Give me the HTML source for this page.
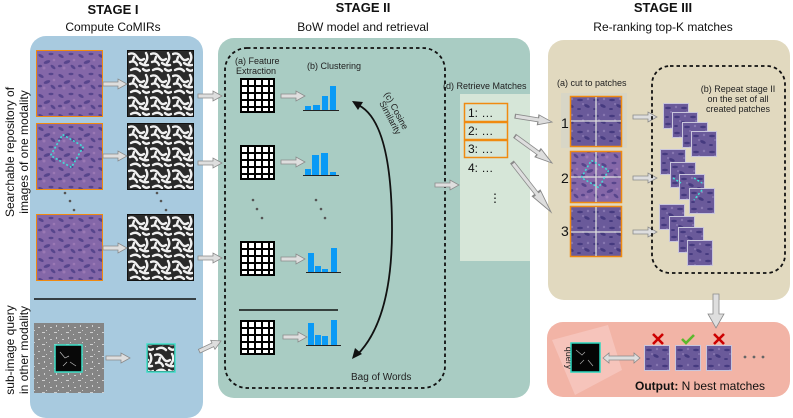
<!DOCTYPE html>
<html><head><meta charset="utf-8"><style>
html,body{margin:0;padding:0;background:#fff;}
svg{display:block;font-family:"Liberation Sans",Arial,sans-serif;}
</style></head><body>
<svg width="793" height="418" viewBox="0 0 793 418" xmlns="http://www.w3.org/2000/svg">
<defs>
<pattern id="pg" width="22" height="22" patternUnits="userSpaceOnUse">
<rect width="22" height="22" fill="#2a2a2a"/>
<g stroke="#f0f0f0" stroke-width="2.4" fill="none" stroke-linecap="round">
<path d="M1,3 Q6,1 9,6 T16,8"/><path d="M18,2 Q21,7 17,12"/><path d="M2,11 Q7,9 9,14"/><path d="M12,12 Q16,15 20,14"/>
<path d="M3,19 Q8,16 12,20"/><path d="M15,18 Q18,21 21,19"/><path d="M6,6 L5,9"/>
</g></pattern>
<pattern id="pp" width="20" height="20" patternUnits="userSpaceOnUse">
<rect width="20" height="20" fill="#8467a8"/>
<g fill="#4c3c84" opacity="0.8">
<ellipse cx="4" cy="5" rx="3" ry="1.5" transform="rotate(30 4 5)"/><ellipse cx="14" cy="3" rx="2.5" ry="1.2"/>
<ellipse cx="10" cy="11" rx="3.5" ry="1.6" transform="rotate(-20 10 11)"/><ellipse cx="3" cy="15" rx="2" ry="1.3"/>
<ellipse cx="16" cy="16" rx="3" ry="1.4" transform="rotate(40 16 16)"/></g>
<g fill="#b08ac0" opacity="0.5"><circle cx="7" cy="17" r="1.5"/><circle cx="17" cy="9" r="1.3"/></g>
</pattern>
<pattern id="pd" width="16" height="16" patternUnits="userSpaceOnUse">
<rect width="16" height="16" fill="#6a5a9a"/>
<g fill="#3c3278" opacity="0.8"><ellipse cx="4" cy="4" rx="3" ry="1.3"/><ellipse cx="11" cy="10" rx="3" ry="1.5" transform="rotate(25 11 10)"/><ellipse cx="3" cy="13" rx="2" ry="1"/></g>
<g fill="#9a8ac0" opacity="0.6"><circle cx="12" cy="3" r="1.2"/><circle cx="7" cy="8" r="1"/></g>
</pattern>
<pattern id="pq" width="12" height="12" patternUnits="userSpaceOnUse">
<rect width="12" height="12" fill="#858585"/>
<g fill="#cfcfcf"><rect x="2" y="3" width="2" height="1"/><rect x="8" y="1" width="1" height="2"/><rect x="6" y="8" width="3" height="1"/><rect x="1" y="10" width="1" height="1"/><rect x="10" y="6" width="1" height="1"/></g>
</pattern>
<g id="grid">
<rect x="0" y="0" width="35" height="35" fill="#000"/>
<g fill="#fff">
<rect x="2" y="2" width="5" height="5"/><rect x="9" y="2" width="5" height="5"/><rect x="16" y="2" width="5" height="5"/><rect x="23" y="2" width="5" height="5"/><rect x="30" y="2" width="3" height="5"/>
<rect x="2" y="9" width="5" height="5"/><rect x="9" y="9" width="5" height="5"/><rect x="16" y="9" width="5" height="5"/><rect x="23" y="9" width="5" height="5"/><rect x="30" y="9" width="3" height="5"/>
<rect x="2" y="16" width="5" height="5"/><rect x="9" y="16" width="5" height="5"/><rect x="16" y="16" width="5" height="5"/><rect x="23" y="16" width="5" height="5"/><rect x="30" y="16" width="3" height="5"/>
<rect x="2" y="23" width="5" height="5"/><rect x="9" y="23" width="5" height="5"/><rect x="16" y="23" width="5" height="5"/><rect x="23" y="23" width="5" height="5"/><rect x="30" y="23" width="3" height="5"/>
<rect x="2" y="30" width="5" height="3"/><rect x="9" y="30" width="5" height="3"/><rect x="16" y="30" width="5" height="3"/><rect x="23" y="30" width="5" height="3"/><rect x="30" y="30" width="3" height="3"/>
</g></g>
<polygon id="ar" points="-24,-2 -9,-2 -9,-5 0,0 -9,5 -9,2 -24,2" fill="#dedede" stroke="#8a8a8a" stroke-width="0.8"/>
<g id="pur"><rect width="65" height="65" fill="url(#pp)"/></g>
<g id="gry"><rect width="65" height="65" fill="url(#pg)"/></g>
<g id="pat"><rect x="-1" y="-1" width="26" height="26" fill="#c9c6dc"/><rect width="24" height="24" fill="url(#pd)"/></g>
</defs>

<g text-anchor="middle" fill="#111">
<text x="113" y="14" font-size="13" font-weight="bold">STAGE I</text>
<text x="113" y="31" font-size="12">Compute CoMIRs</text>
<text x="363" y="12" font-size="13" font-weight="bold">STAGE II</text>
<text x="363" y="31" font-size="12">BoW model and retrieval</text>
<text x="663" y="12" font-size="13" font-weight="bold">STAGE III</text>
<text x="663" y="31" font-size="12">Re-ranking top-K matches</text>
</g>

<rect x="30" y="36" width="173" height="382" rx="16" fill="#a8cadf"/>
<rect x="218" y="38" width="312" height="360" rx="16" fill="#a9ccc3"/>
<rect x="548" y="40" width="242" height="260" rx="16" fill="#e1d9bf"/>
<rect x="547" y="322" width="243" height="75" rx="16" fill="#f2b4a6"/>

<g font-size="12" fill="#111" text-anchor="middle">
<text transform="translate(14,152) rotate(-90)">Searchable repository of</text>
<text transform="translate(28,152) rotate(-90)">images of one modality</text>
<text transform="translate(14,350) rotate(-90)">sub-image query</text>
<text transform="translate(28,350) rotate(-90)">in other modality</text>
</g>

<rect x="36" y="50" width="67" height="67" fill="#f08a10"/><use href="#pur" x="37" y="51"/>
<rect x="36" y="123" width="67" height="67" fill="#f08a10"/><use href="#pur" x="37" y="124"/>
<rect x="36" y="214" width="67" height="67" fill="#f08a10"/><use href="#pur" x="37" y="215"/>
<rect x="55" y="139" width="24" height="24" fill="none" stroke="#3ee0d8" stroke-width="1.6" stroke-dasharray="2,2" transform="rotate(30 67 151)"/>
<rect x="127" y="50" width="67" height="67" fill="#111"/><use href="#gry" x="128" y="51"/>
<rect x="127" y="123" width="67" height="67" fill="#111"/><use href="#gry" x="128" y="124"/>
<rect x="127" y="214" width="67" height="67" fill="#111"/><use href="#gry" x="128" y="215"/>
<g fill="#555"><circle cx="65" cy="193" r="1.3"/><circle cx="70" cy="201" r="1.3"/><circle cx="74" cy="210" r="1.3"/>
<circle cx="157" cy="193" r="1.3"/><circle cx="161" cy="201" r="1.3"/><circle cx="166" cy="210" r="1.3"/></g>
<line x1="34" y1="299" x2="196" y2="299" stroke="#111" stroke-width="1.5"/>
<rect x="34" y="323" width="70" height="70" fill="url(#pq)"/>
<rect x="55" y="345" width="27" height="27" fill="#080808" stroke="#3ee0c8" stroke-width="1.5"/>
<path d="M60,352 l5,6 l4,-2 M70,362 l6,4 M63,366 l4,-4" stroke="#bbb" stroke-width="0.7" fill="none"/>
<rect x="147" y="344" width="28" height="28" fill="#222" stroke="#3ee0c8" stroke-width="1.5"/>
<rect x="148" y="345" width="26" height="26" fill="url(#pg)"/>

<use href="#ar" transform="translate(127,84)"/>
<use href="#ar" transform="translate(127,156)"/>
<use href="#ar" transform="translate(127,248)"/>
<use href="#ar" transform="translate(222,96)"/>
<use href="#ar" transform="translate(222,163)"/>
<use href="#ar" transform="translate(222,258)"/>
<use href="#ar" transform="translate(130,358)"/>
<use href="#ar" transform="translate(221,341) rotate(-25)"/>

<rect x="225" y="48" width="220" height="340" rx="22" fill="none" stroke="#111" stroke-width="1.8" stroke-dasharray="3.5,3"/>
<g font-size="9" fill="#222">
<text x="235" y="64">(a) Feature</text><text x="236" y="74">Extraction</text>
<text x="307" y="69">(b) Clustering</text>
<text x="443" y="89">(d) Retrieve Matches</text>
</g>
<use href="#grid" x="240" y="78"/>
<use href="#grid" x="240" y="145"/>
<use href="#grid" x="240" y="241"/>
<use href="#grid" x="240" y="320"/>
<use href="#ar" transform="translate(305,96)"/>
<use href="#ar" transform="translate(305,162)"/>
<use href="#ar" transform="translate(305,259)"/>
<use href="#ar" transform="translate(307,337)"/>
<g fill="#0a9af5">
<rect x="305" y="106" width="6" height="4"/><rect x="313" y="105" width="7" height="5"/><rect x="322" y="96" width="6" height="14"/><rect x="330" y="86" width="6" height="24"/>
<rect x="305" y="169" width="6" height="6"/><rect x="312" y="155" width="7" height="20"/><rect x="321" y="153" width="7" height="22"/><rect x="330" y="172" width="6" height="3"/>
<rect x="308" y="253" width="6" height="19"/><rect x="315" y="266" width="6" height="6"/><rect x="322" y="269" width="6" height="3"/><rect x="331" y="248" width="6" height="24"/>
<rect x="308" y="323" width="6" height="22"/><rect x="315" y="335" width="6" height="10"/><rect x="322" y="336" width="6" height="9"/><rect x="331" y="320" width="6" height="25"/>
</g>
<g stroke="#222" stroke-width="1"><line x1="303" y1="110.5" x2="339" y2="110.5"/><line x1="303" y1="175.5" x2="339" y2="175.5"/><line x1="306" y1="272.5" x2="341" y2="272.5"/><line x1="306" y1="345.5" x2="341" y2="345.5"/></g>
<line x1="239" y1="310" x2="338" y2="310" stroke="#111" stroke-width="1.5"/>
<g fill="#555"><circle cx="253" cy="200" r="1.3"/><circle cx="257" cy="209" r="1.3"/><circle cx="262" cy="218" r="1.3"/>
<circle cx="316" cy="200" r="1.3"/><circle cx="321" cy="209" r="1.3"/><circle cx="325" cy="218" r="1.3"/></g>
<path d="M356,104 Q392,118 392,230 Q392,320 357,355" fill="none" stroke="#111" stroke-width="1.8"/>
<polygon points="352,101 363,102 358,110" fill="#111"/>
<polygon points="352,359 355,348 362,354" fill="#111"/>
<g font-size="9" fill="#222">
<text transform="translate(384,94) rotate(62)">(c) Cosine</text>
<text transform="translate(379,103) rotate(62)">Similarity</text>
</g>
<text x="351" y="380" font-size="10" fill="#222">Bag of Words</text>
<use href="#ar" transform="translate(459,185)"/>

<rect x="460" y="94" width="70" height="167" fill="#d6e6d8"/>
<g fill="none" stroke="#f08a10" stroke-width="1.5">
<rect x="464.5" y="103.5" width="43" height="18"/><rect x="464.5" y="122.5" width="43" height="17"/><rect x="464.5" y="140.5" width="43" height="17"/></g>
<g font-size="12" fill="#111">
<text x="468" y="117">1: …</text><text x="468" y="135">2: …</text><text x="468" y="153">3: …</text><text x="468" y="172">4: …</text>
<text x="489" y="202">⋮</text></g>

<use href="#ar" transform="translate(552,122) rotate(9) scale(1.55,1)"/>
<use href="#ar" transform="translate(552,163) rotate(36) scale(1.9,1)"/>
<use href="#ar" transform="translate(551,212) rotate(52) scale(2.6,1)"/>

<text x="557" y="86" font-size="9" fill="#222">(a) cut to patches</text>
<rect x="561" y="93" width="66" height="55" fill="#d8d6c6"/>
<g>
<rect x="570.5" y="96.5" width="51" height="50" fill="url(#pd)" stroke="#f08a10" stroke-width="1.5"/>
<rect x="570.5" y="151.5" width="51" height="51" fill="url(#pp)" stroke="#f08a10" stroke-width="1.5"/>
<rect x="570.5" y="206.5" width="51" height="50" fill="url(#pd)" stroke="#f08a10" stroke-width="1.5"/>
<g stroke="#ddd" stroke-width="1.3"><line x1="596" y1="97" x2="596" y2="146"/><line x1="571" y1="121" x2="621" y2="121"/>
<line x1="596" y1="152" x2="596" y2="202"/><line x1="571" y1="177" x2="621" y2="177"/>
<line x1="596" y1="207" x2="596" y2="256"/><line x1="571" y1="232" x2="621" y2="232"/></g>
<rect x="585" y="164" width="20" height="20" fill="none" stroke="#3ee0d8" stroke-width="1.5" stroke-dasharray="2,2" transform="rotate(30 595 174)"/>
</g>
<g font-size="14" fill="#111"><text x="561" y="128">1</text><text x="561" y="183">2</text><text x="561" y="236">3</text></g>
<use href="#ar" transform="translate(657,117)"/>
<use href="#ar" transform="translate(657,178)"/>
<use href="#ar" transform="translate(657,232)"/>
<rect x="652" y="66" width="133" height="207" rx="18" fill="none" stroke="#111" stroke-width="1.8" stroke-dasharray="3.5,3"/>
<g font-size="9" fill="#222" text-anchor="middle"><text x="738" y="92">(b) Repeat stage II</text><text x="738" y="102">on the set of all</text><text x="738" y="112">created patches</text></g>
<use href="#pat" x="664" y="104"/><use href="#pat" x="673" y="113"/><use href="#pat" x="683" y="123"/><use href="#pat" x="692" y="132"/>
<use href="#pat" x="661" y="150"/><use href="#pat" x="671" y="163"/><use href="#pat" x="680" y="175"/><use href="#pat" x="690" y="189"/>
<use href="#pat" x="660" y="205"/><use href="#pat" x="670" y="217"/><use href="#pat" x="679" y="228"/><use href="#pat" x="688" y="241"/>
<path d="M673,178 L681,183 M694,178 L702,183 M702,190 L694,200" stroke="#3ee0d8" stroke-width="1.5" stroke-dasharray="2,2" fill="none"/>

<polygon points="713,294 719,294 719,314 724,314 716,328 708,314 713,314" fill="#dedede" stroke="#8a8a8a" stroke-width="0.8"/>

<polygon points="552,340 608,325 622,370 575,395" fill="#f6c4bb"/>
<text transform="translate(566,358) rotate(90)" font-size="9" fill="#222" text-anchor="middle">query</text>
<rect x="571" y="343" width="29" height="29" fill="#050505" stroke="#2ad8c0" stroke-width="1.5"/>
<path d="M576,350 l6,5 l3,-3 M588,360 l5,6 M580,364 l4,-4" stroke="#aaa" stroke-width="0.7" fill="none"/>
<polygon points="603,358 609,353 609,356 634,356 634,353 640,358 634,363 634,360 609,360 609,363" fill="#dedede" stroke="#8a8a8a" stroke-width="0.8"/>
<use href="#pat" x="645" y="346"/>
<use href="#pat" x="676" y="346"/>
<use href="#pat" x="707" y="346"/>
<g stroke="#c00" stroke-width="2.6"><path d="M653,334 l10,10 M663,334 l-10,10"/><path d="M714,334 l10,10 M724,334 l-10,10"/></g>
<path d="M682,339 l4,4 l8,-8" stroke="#5cb82c" stroke-width="2.6" fill="none"/>
<g fill="#666"><circle cx="745" cy="357" r="1.4"/><circle cx="754" cy="357" r="1.4"/><circle cx="763" cy="357" r="1.4"/></g>
<text x="635" y="390" font-size="12" fill="#111"><tspan font-weight="bold">Output:</tspan> N best matches</text>
</svg>
</body></html>
